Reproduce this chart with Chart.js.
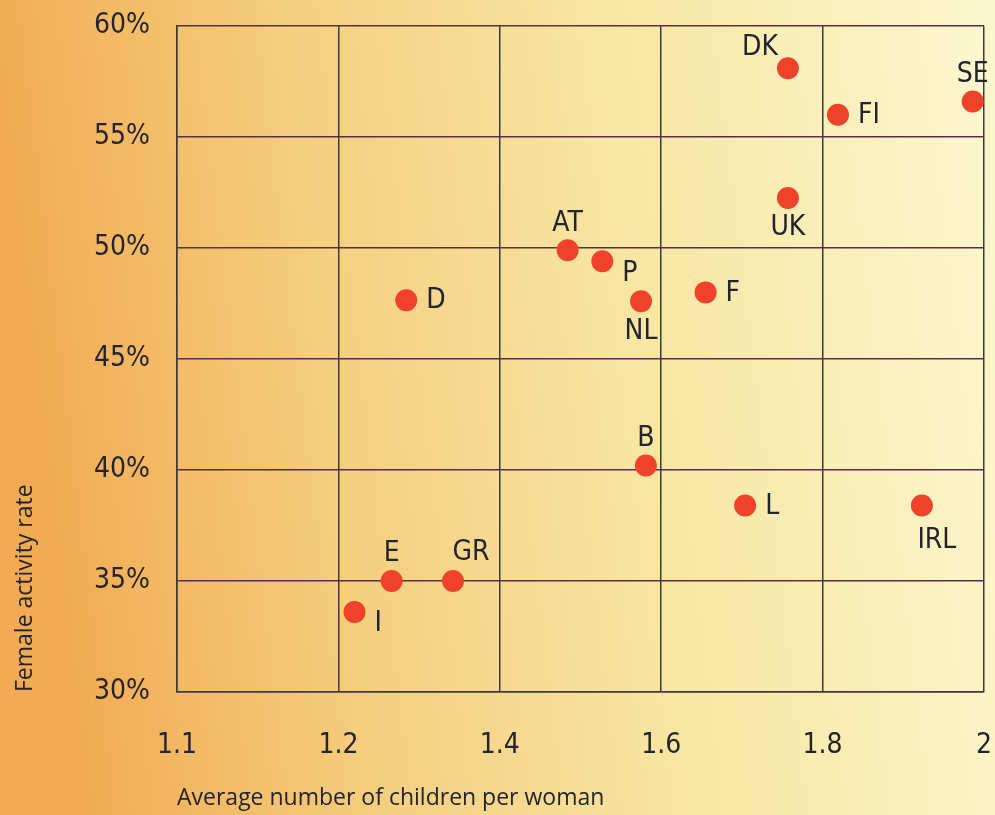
<!DOCTYPE html>
<html>
<head>
<meta charset="utf-8">
<title>Female activity rate vs fertility</title>
<script src="https://cdn.jsdelivr.net/npm/chart.js@4.4.1/dist/chart.umd.min.js"></script>
<style>
  html, body { margin: 0; padding: 0; background: #f6d88e; }
  #wrap { width: 995px; height: 815px; }
</style>
</head>
<body>
<div id="wrap"><canvas id="chart" width="995" height="815"></canvas></div>
<script>
// countries, children per woman, female activity rate (%)
const countries = ["DK", "SE", "FI", "UK", "AT", "P", "NL", "F", "D", "B", "L", "IRL", "E", "GR", "I"];
const children = [1.757, 1.986, 1.819, 1.757, 1.484, 1.527, 1.575, 1.655, 1.284, 1.581, 1.704, 1.923, 1.266, 1.342, 1.22];
const activity = [58.1, 56.6, 56.0, 52.25, 49.9, 49.4, 47.6, 48.0, 47.65, 40.2, 38.4, 38.4, 35.0, 35.0, 33.6];

// tick labels as printed on the original (first one reads 1.1)
const xTickLabels = ["1.1", "1.2", "1.4", "1.6", "1.8", "2"];

// where each country name sits relative to its dot
const labelSpots = ["upleft", "above", "right", "below", "above", "downright", "below", "right",
                    "right", "above", "right", "belowright", "above", "aboveright", "downright"];

const spotOffsets = {
  above:      { dx: 0,   dy: -27, align: "center" },
  below:      { dx: 0,   dy: 30,  align: "center" },
  right:      { dx: 20,  dy: 1,   align: "left" },
  upleft:     { dx: -10, dy: -20, align: "right" },
  downright:  { dx: 20,  dy: 12,  align: "left" },
  aboveright: { dx: 18,  dy: -28, align: "center" },
  belowright: { dx: 15,  dy: 35,  align: "center" }
};

const narrowFamily = "'Liberation Sans Narrow', 'DejaVu Sans Condensed', 'Liberation Sans', Arial, sans-serif";
const labelFont = "28px " + narrowFamily;
const textColor = "#24242e";

const points = children.map((c, i) => ({ x: c, y: activity[i] }));

const backdrop = {
  id: "backdrop",
  beforeDraw(chart) {
    const ctx = chart.ctx;
    const g = ctx.createLinearGradient(0, 120, chart.width, 0);
    g.addColorStop(0, "#f2ab52");
    g.addColorStop(0.3, "#f4cf80");
    g.addColorStop(0.6, "#f7e6a2");
    g.addColorStop(1, "#fcf7cf");
    ctx.save();
    ctx.fillStyle = g;
    ctx.fillRect(0, 0, chart.width, chart.height);
    ctx.restore();
  }
};

const countryLabels = {
  id: "countryLabels",
  afterDatasetsDraw(chart) {
    const ctx = chart.ctx;
    const meta = chart.getDatasetMeta(0);
    ctx.save();
    ctx.font = labelFont;
    ctx.fillStyle = textColor;
    ctx.textBaseline = "middle";
    meta.data.forEach((pt, i) => {
      const o = spotOffsets[labelSpots[i]];
      ctx.textAlign = o.align;
      ctx.fillText(countries[i], pt.x + o.dx, pt.y + o.dy);
    });
    ctx.restore();
  }
};

const chart = new Chart(document.getElementById("chart").getContext("2d"), {
  type: "scatter",
  data: {
    datasets: [{
      label: "Countries",
      data: points,
      backgroundColor: "#f0412b",
      borderWidth: 0,
      pointRadius: 11,
      pointHoverRadius: 11
    }]
  },
  options: {
    responsive: false,
    animation: false,
    layout: { padding: { top: 26, right: 6, left: 0, bottom: 0 } },
    plugins: {
      legend: { display: false },
      tooltip: { enabled: false }
    },
    scales: {
      x: {
        type: "linear",
        min: 1.0,
        max: 2.0,
        afterFit(scale) {
          scale.height = 123;
          scale.paddingLeft = 0;
          scale.paddingRight = 0;
        },
        ticks: {
          stepSize: 0.2,
          padding: 37,
          color: textColor,
          font: { family: narrowFamily, size: 28 },
          maxRotation: 0,
          callback: (v, i) => xTickLabels[i]
        },
        grid: { color: "#3c3a3a", lineWidth: 1.5, drawTicks: false },
        border: { color: "#3c3a3a", width: 1.5 },
        title: {
          display: true,
          text: "Average number of children per woman",
          align: "start",
          color: textColor,
          font: { family: "'Open Sans', 'Noto Sans', sans-serif", size: 23 },
          padding: { top: 0, bottom: 3 }
        }
      },
      y: {
        min: 30,
        max: 60,
        afterFit(scale) {
          scale.width = 177;
          scale.paddingTop = 0;
          scale.paddingBottom = 0;
        },
        ticks: {
          stepSize: 5,
          padding: 27,
          color: textColor,
          font: { family: narrowFamily, size: 28 },
          callback: v => v + "%"
        },
        grid: { color: "#5a2d4e", lineWidth: 1.5, drawTicks: false },
        border: { color: "#3c3a3a", width: 1.5 },
        title: {
          display: true,
          text: "Female activity rate",
          align: "start",
          color: textColor,
          font: { family: "'Open Sans', 'Noto Sans', sans-serif", size: 23 },
          padding: { top: 12, bottom: 0 }
        }
      }
    }
  },
  plugins: [backdrop, countryLabels]
});
</script>
</body>
</html>
